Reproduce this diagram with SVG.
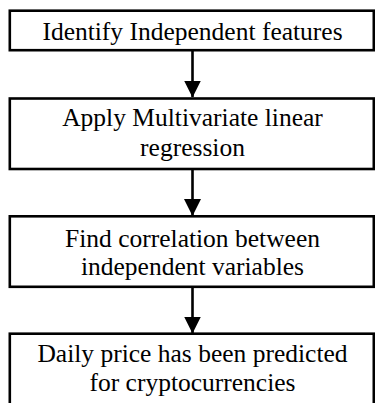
<svg xmlns="http://www.w3.org/2000/svg" width="375" height="403" viewBox="0 0 375 403">
<style>
.box{fill:#fff;stroke:#000;stroke-width:2.6}
.t{font-family:"Liberation Serif","Times New Roman",serif;font-size:25.5px;fill:#000;text-anchor:middle}
.ln{stroke:#000;stroke-width:2.6;fill:none}
</style>
<defs>
<marker id="ah" markerUnits="userSpaceOnUse" markerWidth="17" markerHeight="18" refX="16.5" refY="8.5" orient="auto" viewBox="0 0 17 17">
<path d="M0,0 L17,8.5 L0,17 Z" fill="#000"/>
</marker>
</defs>
<rect width="375" height="403" fill="#fff"/>
<g id="connectors">
<line class="ln" x1="192.5" y1="51" x2="192.5" y2="97" marker-end="url(#ah)"/>
<line class="ln" x1="192.5" y1="170" x2="192.5" y2="215.5" marker-end="url(#ah)"/>
<line class="ln" x1="192.5" y1="288" x2="192.5" y2="333" marker-end="url(#ah)"/>
</g>
<g id="n1">
<rect class="box" x="9.8" y="10.7" width="364" height="39.5"/>
<text class="t" x="192.5" y="39.5">Identify Independent features</text>
</g>
<g id="n2">
<rect class="box" x="9.8" y="98.5" width="364" height="70.5"/>
<text class="t" x="192.5" y="125.5">Apply Multivariate linear</text>
<text class="t" x="192.5" y="156">regression</text>
</g>
<g id="n3">
<rect class="box" x="9.8" y="216.3" width="364" height="70.5"/>
<text class="t" x="192.5" y="246.6">Find correlation between</text>
<text class="t" x="192.5" y="274.9">independent variables</text>
</g>
<g id="n4">
<rect class="box" x="9.8" y="333.7" width="364" height="80"/>
<text class="t" x="192.5" y="362.3">Daily price has been predicted</text>
<text class="t" x="192.5" y="390.6">for cryptocurrencies</text>
</g>
</svg>
